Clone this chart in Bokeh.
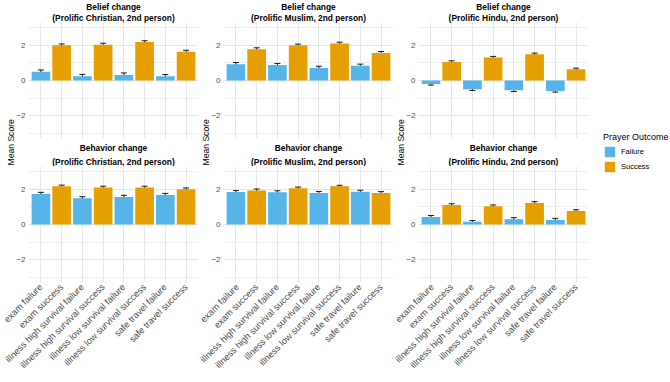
import math
from bokeh.plotting import figure
from bokeh.models import (ColumnDataSource, FactorRange, Range1d, FixedTicker, Whisker,
                          TeeHead, Title, Legend, LegendItem)
from bokeh.layouts import row, column
from bokeh.embed import file_html
from bokeh.resources import INLINE

# ---------------- data ----------------
categories = ["exam failure", "exam success",
              "illness high survival failure", "illness high survival success",
              "illness low survival failure", "illness low survival success",
              "safe travel failure", "safe travel success"]
outcomes = ["Failure", "Success", "Failure", "Success",
            "Failure", "Success", "Failure", "Success"]

christian_belief = [0.50, 2.00, 0.24, 2.04, 0.32, 2.19, 0.24, 1.64]
christian_belief_se = [0.10, 0.08, 0.11, 0.08, 0.11, 0.07, 0.10, 0.08]
muslim_belief = [0.93, 1.78, 0.88, 2.00, 0.71, 2.11, 0.84, 1.57]
muslim_belief_se = [0.09, 0.08, 0.09, 0.07, 0.10, 0.07, 0.09, 0.08]
hindu_belief = [-0.20, 1.05, -0.50, 1.31, -0.56, 1.50, -0.60, 0.64]
hindu_belief_se = [0.06, 0.07, 0.07, 0.06, 0.07, 0.06, 0.06, 0.06]

christian_behavior = [1.74, 2.17, 1.49, 2.11, 1.57, 2.11, 1.68, 2.00]
christian_behavior_se = [0.09, 0.07, 0.09, 0.07, 0.09, 0.07, 0.09, 0.08]
muslim_behavior = [1.85, 1.94, 1.83, 2.06, 1.79, 2.17, 1.87, 1.79]
muslim_behavior_se = [0.08, 0.08, 0.09, 0.07, 0.09, 0.06, 0.08, 0.08]
hindu_behavior = [0.43, 1.11, 0.15, 1.04, 0.30, 1.23, 0.26, 0.77]
hindu_behavior_se = [0.08, 0.07, 0.08, 0.07, 0.09, 0.07, 0.09, 0.07]

groups = ["Christian", "Muslim", "Hindu"]
outcome_levels = ["Failure", "Success"]
outcome_colors = {"Failure": "#56B4E9", "Success": "#E69F00"}

FONT = "Liberation Sans"
FRAME_W = 170
FRAME_H = 116
TOP_H = 167


def style_common(p):
    p.outline_line_color = None
    p.background_fill_color = "white"
    p.border_fill_color = "white"
    p.yaxis.ticker = FixedTicker(ticks=[-2, 0, 2], minor_ticks=[-3, -1, 1, 3])
    p.ygrid.ticker = FixedTicker(ticks=[-2, 0, 2], minor_ticks=[-3, -1, 1, 3])
    p.ygrid.grid_line_color = "#E6E6E6"
    p.ygrid.minor_grid_line_color = "#EFEFEF"
    p.xgrid.grid_line_color = "#E6E6E6"
    for ax in (p.xaxis, p.yaxis):
        ax.axis_line_color = None
        ax.major_tick_line_color = None
        ax.minor_tick_line_color = None
        ax.major_tick_out = 0
        ax.major_tick_in = 0
        ax.minor_tick_out = 0
        ax.minor_tick_in = 0
    p.yaxis.major_label_text_font = FONT
    p.yaxis.major_label_text_font_size = "8px"
    p.yaxis.major_label_text_color = "#4D4D4D"
    p.yaxis.major_label_standoff = 3


def draw_bars(p, vals, ses):
    src = ColumnDataSource(dict(
        cat=categories,
        val=vals,
        upper=[v + s for v, s in zip(vals, ses)],
        lower=[v - s for v, s in zip(vals, ses)],
        color=[outcome_colors[o] for o in outcomes],
    ))
    p.vbar(x="cat", top="val", bottom=0, width=0.9, fill_color="color",
           line_color=None, source=src)
    w = Whisker(source=src, base="cat", upper="upper", lower="lower",
                line_color="#1A1A1A", line_width=1,
                upper_head=TeeHead(size=6, line_color="#1A1A1A", line_width=1),
                lower_head=TeeHead(size=6, line_color="#1A1A1A", line_width=1))
    p.add_layout(w)


def title(text, standoff):
    return Title(text=text, align="center", text_font=FONT, text_font_size="8.4px",
                 text_font_style="bold", text_color="black", standoff=standoff)


def top_panel(group, vals, ses, left):
    p = figure(x_range=FactorRange(factors=categories, range_padding=0.025,
                                   range_padding_units="percent"),
               y_range=Range1d(-3.3, 3.3), frame_width=FRAME_W, frame_height=FRAME_H,
               min_border_left=left, min_border_right=0, min_border_top=22,
               min_border_bottom=28, output_backend="svg", toolbar_location=None,
               title=None)
    style_common(p)
    p.xaxis.visible = False
    draw_bars(p, vals, ses)
    p.add_layout(title("(Prolific %s, 2nd person)" % group, -1), "above")
    p.add_layout(title("Belief change", -1), "above")
    p.add_layout(title("Behavior change", 5), "below")
    p.add_layout(title("(Prolific %s, 2nd person)" % group, -1), "below")
    p.add_layout(Title(text="Mean Score", align="left", offset=-27, standoff=-4,
                       text_font=FONT, text_font_size="8.6px", text_font_style="normal",
                       text_color="black"), "left")
    return p


def bottom_panel(vals, ses, left):
    p = figure(x_range=FactorRange(factors=categories, range_padding=0.025,
                                   range_padding_units="percent"),
               y_range=Range1d(-3.3, 3.3), frame_width=FRAME_W, frame_height=FRAME_H,
               min_border_left=left, min_border_right=0, min_border_top=0,
               min_border_bottom=382 - TOP_H - FRAME_H, output_backend="svg",
               toolbar_location=None, title=None)
    style_common(p)
    p.xaxis.major_label_orientation = math.pi / 4
    p.xaxis.major_label_text_font = FONT
    p.xaxis.major_label_text_font_size = "9.2px"
    p.xaxis.major_label_text_color = "#4D4D4D"
    p.xaxis.major_label_standoff = 3
    draw_bars(p, vals, ses)
    return p


t1 = top_panel(groups[0], christian_belief, christian_belief_se, 28)
t2 = top_panel(groups[1], muslim_belief, muslim_belief_se, 25)
t3 = top_panel(groups[2], hindu_belief, hindu_belief_se, 25)
b1 = bottom_panel(christian_behavior, christian_behavior_se, 28)
b2 = bottom_panel(muslim_behavior, muslim_behavior_se, 25)
b3 = bottom_panel(hindu_behavior, hindu_behavior_se, 25)

top_row = row(t1, t2, t3, spacing=0)
bottom_row = row(b1, b2, b3, spacing=0)

# legend figure
lg = figure(width=82, height=382, x_range=Range1d(0, 1), y_range=Range1d(0, 1),
            x_axis_type=None, y_axis_type=None, min_border=0,
            output_backend="svg", toolbar_location=None, title=None)
lg.outline_line_color = None
items = []
for lvl in outcome_levels:
    s = ColumnDataSource(dict(x=[0.0], top=[0.0]))
    r = lg.vbar(x="x", top="top", bottom=0, width=0.0, fill_color=outcome_colors[lvl],
                line_color=None, source=s)
    items.append(LegendItem(label=lvl, renderers=[r]))
legend = Legend(items=items, location=(15, 209), title="Prayer Outcome",
                title_text_font=FONT, title_text_font_size="9px", title_text_font_style="normal",
                title_text_color="black", title_standoff=3,
                label_text_font=FONT, label_text_font_size="7.5px", label_text_color="black",
                glyph_width=13, glyph_height=13, label_height=13, label_standoff=5,
                spacing=2, padding=0, margin=0, border_line_color=None,
                background_fill_alpha=0)
lg.add_layout(legend)

layout = row(column(top_row, bottom_row, spacing=0), lg, spacing=0)

open("out.html", "w").write(file_html(layout, INLINE))
